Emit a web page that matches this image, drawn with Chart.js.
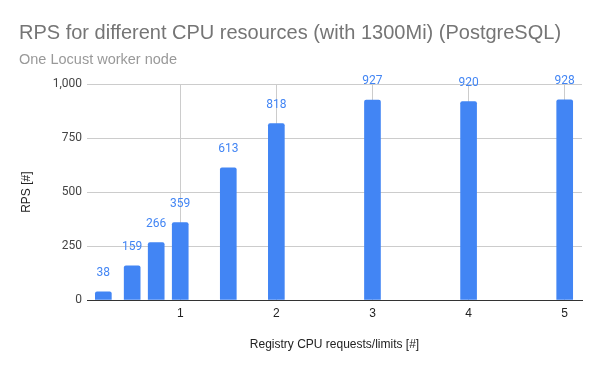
<!DOCTYPE html>
<html>
<head>
<meta charset="utf-8">
<script src="https://cdn.jsdelivr.net/npm/chart.js@4.4.1/dist/chart.umd.min.js"></script>
<style>
  html, body { margin: 0; padding: 0; background: #fff; }
  #wrap { width: 600px; height: 371px; }
</style>
</head>
<body>
<div id="wrap"><canvas id="chart" width="600" height="371"></canvas></div>
<script>
// CPU requests/limits and measured RPS
const cpu = [0.2, 0.5, 0.75, 1, 1.5, 2, 3, 4, 5];
const rps = [38, 159, 266, 359, 613, 818, 927, 920, 928];
const xTicks = [1, 2, 3, 4, 5];
const yTicks = [0, 250, 500, 750, 1000];

const barColor = '#4285F4';

// draws the value above every bar
const valueLabels = {
  id: 'valueLabels',
  afterDatasetsDraw(chart) {
    const ctx = chart.ctx;
    const meta = chart.getDatasetMeta(0);
    ctx.save();
    ctx.font = '12px Roboto';
    ctx.fillStyle = barColor;
    ctx.textAlign = 'center';
    ctx.textBaseline = 'middle';
    meta.data.forEach((bar, i) => {
      ctx.fillText(String(rps[i]), bar.x, bar.y - 19);
    });
    ctx.restore();
  }
};

new Chart(document.getElementById('chart'), {
  type: 'bar',
  data: {
    datasets: [{
      data: cpu.map((x, i) => ({ x: x, y: rps[i] })),
      backgroundColor: barColor,
      barThickness: 16,
      borderRadius: 2,
      borderSkipped: 'start'
    }]
  },
  options: {
    responsive: false,
    animation: false,
    layout: { padding: { left: 19, right: 18, top: 0, bottom: 0 } },
    plugins: {
      legend: { display: false },
      tooltip: { enabled: false },
      title: {
        display: true,
        align: 'start',
        text: 'RPS for different CPU resources (with 1300Mi) (PostgreSQL)',
        color: '#757575',
        font: { family: 'Liberation Sans, Arial', size: 20, weight: 'normal' },
        padding: { top: 21, bottom: 3 }
      },
      subtitle: {
        display: true,
        align: 'start',
        text: 'One Locust worker node',
        color: '#999999',
        font: { family: 'Liberation Sans, Arial', size: 14.5 },
        padding: { top: 3, bottom: 16 }
      }
    },
    scales: {
      x: {
        type: 'linear',
        offset: false,
        min: 0.03,
        max: 5.18,
        afterBuildTicks: s => { s.ticks = xTicks.map(v => ({ value: v })); },
        afterFit: s => { s.height = 71; },
        grid: { color: '#cccccc', drawTicks: false, offset: false },
        border: { display: true, color: '#333333' },
        ticks: {
          padding: 6,
          color: '#222222',
          font: { family: 'Liberation Sans, Arial', size: 12 }
        },
        title: {
          display: true,
          text: 'Registry CPU requests/limits [#]',
          color: '#222222',
          font: { family: 'Liberation Sans, Arial', size: 12 },
          padding: { top: 0, bottom: 19 }
        }
      },
      y: {
        min: 0,
        max: 1000,
        afterBuildTicks: s => { s.ticks = yTicks.map(v => ({ value: v })); },
        afterFit: s => { s.width = 68; },
        grid: {
          color: c => (c.tick && c.tick.value === 0 ? '#333333' : '#cccccc'),
          drawTicks: false
        },
        border: { display: false },
        ticks: {
          padding: 5,
          color: '#444444',
          font: { family: 'Roboto', size: 12 },
          callback: v => v.toLocaleString('en-US')
        },
        title: {
          display: true,
          text: 'RPS [#]',
          color: '#222222',
          font: { family: 'Liberation Sans, Arial', size: 12 },
          padding: { top: 0, bottom: 0 }
        }
      }
    }
  },
  plugins: [valueLabels]
});
</script>
</body>
</html>
